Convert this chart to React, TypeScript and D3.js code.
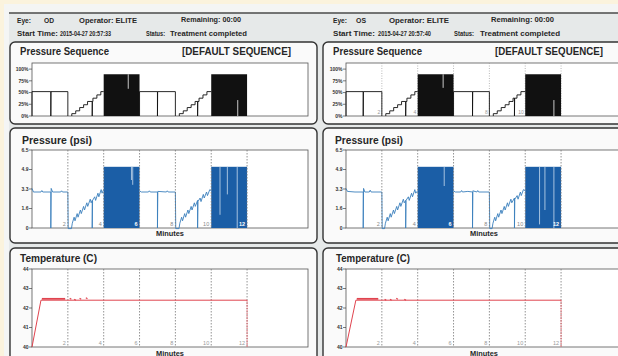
import React from 'react';
import * as d3 from 'd3';

const W = 618;
const H = 356;
const FONT = '"Liberation Sans", Arial, Helvetica, sans-serif';

// ---------- shared axis data ----------
const minuteMarks = [2, 4, 6, 8, 10, 12];
const minuteLabels = ['2', '4', '6', '8', '10', '12'];
const seqTickValues = [0, 25, 50, 75, 100];
const seqTickLabels = ['0%', '25%', '50%', '75%', '100%'];
const psiTickValues = [0, 1.625, 3.25, 4.875, 6.5];
const psiTickLabels = ['0', '1.6', '3.3', '4.9', '6.5'];
const tempTickValues = [40, 41, 42, 43, 44];
const tempTickLabels = ['40', '41', '42', '43', '44'];

// ---------- header text ----------
const headerLabelsOD = ['Eye:', 'OD', 'Operator: ELITE', 'Remaining: 00:00', 'Start Time:', '2015-04-27 20:57:33', 'Status:', 'Treatment completed'];
const headerLabelsOS = ['Eye:', 'OS', 'Operator: ELITE', 'Remaining: 00:00', 'Start Time:', '2015-04-27 20:57:40', 'Status:', 'Treatment completed'];
const titles = ['Pressure Sequence', '[DEFAULT SEQUENCE]', 'Pressure (psi)', 'Temperature (C)', 'Minutes'];

const N = NaN;

// ---------- OD (left) ----------
// pressure sequence outline [minute, %]
const seqLineOD: [number, number][] = [
  [0, 0], [0, 52], [1.05, 52], [1.05, 0], [1.06, 52], [2, 52], [2, 0], [N, N],
  [2.22, 0], [2.22, 5], [2.44, 5], [2.44, 11], [2.66, 11], [2.66, 18], [2.88, 18], [2.88, 24],
  [3.1, 24], [3.1, 31], [3.36, 31], [3.36, 0], [3.37, 31], [3.4, 31], [3.4, 38], [3.62, 38],
  [3.62, 45], [3.84, 45], [3.84, 52], [4, 52], [N, N],
  [6, 0], [6, 52], [7.0, 52], [7.0, 0], [7.01, 52], [8, 52], [8, 0], [N, N],
  [8.22, 0], [8.22, 5], [8.44, 5], [8.44, 11], [8.66, 11], [8.66, 18], [8.88, 18], [8.88, 24],
  [9.1, 24], [9.1, 31], [9.24, 31], [9.24, 0], [9.25, 31], [9.32, 31], [9.32, 38], [9.54, 38],
  [9.54, 45], [9.76, 45], [9.76, 52], [10, 52],
];
// [start, end, %]
const seqBlocksOD: [number, number, number][] = [[4, 6, 89], [10, 12, 89]];
// [minute, from %, to %]
const seqGapsOD: [number, number, number][] = [[5.37, 89, 58], [11.48, 34, 0]];

const psiLineOD: [number, number][] = [
  [0, 3.3], [0.08, 3.0], [0.5, 3.0], [0.55, 3.12], [0.6, 3.0], [1.05, 3.0], [1.05, 0], [1.07, 3.3],
  [1.15, 3.0], [1.6, 3.0], [1.65, 3.1], [1.7, 3.0], [2, 3.0], [2.02, -0.05], [2.2, -0.05],
  [2.25, 0.4], [2.35, 0.9], [2.4, 0.6], [2.52, 1.2], [2.57, 0.9], [2.7, 1.5], [2.75, 1.2],
  [2.88, 1.8], [2.93, 1.5], [3.06, 2.1], [3.11, 1.8], [3.25, 2.4], [3.3, 2.1], [3.36, 2.3],
  [3.36, 0], [3.38, 2.3], [3.5, 2.6], [3.55, 2.3], [3.68, 2.9], [3.73, 2.6], [3.86, 3.2],
  [3.91, 2.9], [4, 3.2], [N, N],
  [6, 3.1], [6.1, 3.0], [6.5, 3.0], [6.55, 3.1], [6.6, 3.0], [7.0, 3.0], [7.0, 0], [7.02, 3.05],
  [7.5, 3.0], [7.55, 3.1], [7.6, 3.0], [8, 3.0], [8.02, -0.05], [8.2, -0.05],
  [8.25, 0.4], [8.35, 0.9], [8.4, 0.6], [8.52, 1.2], [8.57, 0.9], [8.7, 1.5], [8.75, 1.2],
  [8.88, 1.8], [8.93, 1.5], [9.06, 2.1], [9.11, 1.8], [9.24, 2.3], [9.24, 0], [9.26, 2.2],
  [9.38, 2.5], [9.43, 2.2], [9.56, 2.8], [9.61, 2.5], [9.74, 3.0], [9.79, 2.7], [9.92, 3.2], [10, 3.1],
];
const psiBlocksOD: [number, number, number][] = [[4, 6, 5.1], [10, 12, 5.1]];
const psiGapsOD: [number, number, number][] = [[5.55, 5.1, 4.0], [5.62, 5.1, 3.6], [10.49, 5.1, 1.1], [10.9, 5.1, 2.8], [11.45, 5.1, 0]];

const tempLineOD: [number, number][] = [[0, 40], [0.5, 42.4], [12, 42.4]];
const tempDropOD = 12;
const tempBandOD: [number, number, number] = [0.55, 1.85, 42.47];
const tempDotsOD: [number, number][] = [[2.15, 42.5], [2.4, 42.45], [2.7, 42.5], [3.05, 42.52]];

// ---------- OS (right) ----------
const seqLineOS: [number, number][] = [
  [0, 0], [0, 52], [0.96, 52], [0.96, 0], [0.97, 52], [2, 52], [2, 0], [N, N],
  [2.22, 0], [2.22, 5], [2.44, 5], [2.44, 11], [2.66, 11], [2.66, 18], [2.88, 18], [2.88, 24],
  [3.1, 24], [3.1, 31], [3.33, 31], [3.33, 0], [3.34, 31], [3.4, 31], [3.4, 38], [3.62, 38],
  [3.62, 45], [3.84, 45], [3.84, 52], [4, 52], [N, N],
  [6, 0], [6, 52], [7.06, 52], [7.06, 0], [7.07, 52], [8, 52], [8, 0], [N, N],
  [8.22, 0], [8.22, 5], [8.44, 5], [8.44, 11], [8.66, 11], [8.66, 18], [8.88, 18], [8.88, 24],
  [9.1, 24], [9.1, 31], [9.32, 31], [9.32, 38], [9.4, 38], [9.4, 0], [9.41, 38], [9.54, 38],
  [9.54, 45], [9.76, 45], [9.76, 52], [10, 52],
];
const seqBlocksOS: [number, number, number][] = [[4, 6, 89], [10, 12, 89]];
const seqGapsOS: [number, number, number][] = [[5.42, 89, 60], [11.6, 34, 0]];

const psiLineOS: [number, number][] = [
  [0, 3.3], [0.08, 3.05], [0.5, 3.0], [0.96, 3.0], [0.96, 0], [0.98, 3.3], [1.05, 3.0],
  [1.3, 3.0], [1.35, 3.15], [1.4, 3.0], [2, 3.0], [2.02, -0.05], [2.15, -0.05],
  [2.2, 0.4], [2.3, 0.9], [2.35, 0.6], [2.47, 1.2], [2.52, 0.9], [2.65, 1.5], [2.7, 1.2],
  [2.83, 1.8], [2.88, 1.5], [3.01, 2.1], [3.06, 1.8], [3.2, 2.4], [3.25, 2.1], [3.33, 2.3],
  [3.33, 0], [3.35, 2.3], [3.48, 2.6], [3.53, 2.3], [3.66, 2.9], [3.71, 2.6], [3.84, 3.2],
  [3.89, 2.9], [4, 3.1], [N, N],
  [6, 3.1], [6.1, 3.0], [6.4, 3.0], [6.45, 3.12], [6.5, 3.0], [6.8, 3.05], [7.06, 3.0],
  [7.06, 0], [7.08, 3.1], [7.3, 3.0], [7.35, 3.12], [7.4, 3.0], [8, 3.0], [8.02, -0.05],
  [8.15, -0.05], [8.2, 0.4], [8.3, 0.9], [8.35, 0.6], [8.47, 1.2], [8.52, 0.9], [8.65, 1.5],
  [8.7, 1.2], [8.83, 1.8], [8.88, 1.5], [9.01, 2.1], [9.06, 1.8], [9.2, 2.4], [9.25, 2.1],
  [9.4, 2.5], [9.4, 0], [9.42, 2.4], [9.55, 2.7], [9.6, 2.4], [9.73, 3.0], [9.78, 2.7],
  [9.9, 3.2], [10, 3.1],
];
const psiBlocksOS: [number, number, number][] = [[4, 6, 5.1], [10, 12, 5.1]];
const psiGapsOS: [number, number, number][] = [[5.48, 5.1, 3.5], [10.8, 5.1, 0.3], [11.1, 5.1, 1.5], [11.6, 5.1, 0]];

const tempLineOS: [number, number][] = [[0, 40], [0.55, 42.4], [12, 42.4]];
const tempDropOS = 12;
const tempBandOS: [number, number, number] = [0.6, 1.8, 42.47];
const tempDotsOS: [number, number][] = [[2.2, 42.45], [2.5, 42.45], [2.85, 42.5], [3.3, 42.45]];

const OD = {
  header: headerLabelsOD, seqLine: seqLineOD, seqBlocks: seqBlocksOD, seqGaps: seqGapsOD,
  psiLine: psiLineOD, psiBlocks: psiBlocksOD, psiGaps: psiGapsOD,
  tempLine: tempLineOD, tempDrop: tempDropOD, tempBand: tempBandOD, tempDots: tempDotsOD,
};
const OS = {
  header: headerLabelsOS, seqLine: seqLineOS, seqBlocks: seqBlocksOS, seqGaps: seqGapsOS,
  psiLine: psiLineOS, psiBlocks: psiBlocksOS, psiGaps: psiGapsOS,
  tempLine: tempLineOS, tempDrop: tempDropOS, tempBand: tempBandOS, tempDots: tempDotsOS,
};

function T(props: any) {
  const { x, y, w, size, children, weight = 700, fill = '#262626', anchor = 'start' } = props;
  return (
    <text x={x} y={y} fontSize={size} fontWeight={weight} fill={fill} textAnchor={anchor}
      fontFamily={FONT} textLength={w} lengthAdjust="spacingAndGlyphs">{children}</text>
  );
}

function EyePanel({ left, d }: { left: boolean; d: typeof OD }) {
  const bx = left ? 10 : 323;
  const bw = left ? 307 : 312;
  const px = left ? 32 : 346;
  const pw = 276;
  const x = d3.scaleLinear().domain([0, 15.4]).range([px, px + pw]);
  const ySeq = d3.scaleLinear().domain([0, 113]).range([116, 63]);
  const yPsi = d3.scaleLinear().domain([0, 6.5]).range([228, 150]);
  const yTmp = d3.scaleLinear().domain([40, 44]).range([347, 269]);
  const ok = (p: [number, number]) => !isNaN(p[1]);
  const lineSeq = d3.line<[number, number]>().defined(ok).x(p => x(p[0])).y(p => ySeq(p[1]));
  const linePsi = d3.line<[number, number]>().defined(ok).x(p => x(p[0])).y(p => yPsi(p[1]));
  const lineTmp = d3.line<[number, number]>().x(p => x(p[0])).y(p => yTmp(p[1]));

  // header positions [x, y, width]
  const hp = left
    ? [[17, 23, 14], [44, 23, 10], [79, 23, 58], [181, 22, 60], [17, 36, 41], [60, 36, 51], [146, 36, 19], [170, 36, 77]]
    : [[333, 23, 14], [356, 23, 10], [389, 23, 60], [491, 22, 63], [333, 36, 42], [378, 36, 53], [454, 36, 20], [480, 36, 80]];
  const tp = left
    ? { seq: [20, 89], def: [182, 109], psi: [22, 70], tmp: [20, 77] }
    : { seq: [333, 89], def: [495, 108], psi: [335, 68], tmp: [336, 74] };

  const yAxis = (scale: any, vals: number[], labels: string[]) =>
    vals.map((v, i) => (
      <g key={i}>
        <line x1={px - 3} x2={px} y1={scale(v)} y2={scale(v)} stroke="#444" strokeWidth={0.7} />
        <T x={px - 3.5} y={scale(v) + 1.8} size={5} weight={700} fill="#333" anchor="end">{labels[i]}</T>
      </g>
    ));

  const inBlock = (m: number, blocks: [number, number, number][]) => blocks.some(b => m > b[0] && m <= b[1]);

  return (
    <g>
      {/* header text */}
      {d.header.map((t, i) => (
        <T key={i} x={hp[i][0]} y={hp[i][1]} w={hp[i][2]} size={7.5}>{t}</T>
      ))}

      {/* boxes */}
      <rect x={bx} y={42} width={bw} height={82} rx={5} fill="#fafafa" stroke="#333" strokeWidth={1.4} />
      <rect x={bx} y={128} width={bw} height={115} rx={5} fill="#fafafa" stroke="#333" strokeWidth={1.4} />
      <rect x={bx} y={248} width={bw} height={140} rx={5} fill="#fafafa" stroke="#333" strokeWidth={1.4} />

      {/* ---------- Pressure Sequence ---------- */}
      <T x={tp.seq[0]} y={55} w={tp.seq[1]} size={10.5}>{titles[0]}</T>
      <T x={tp.def[0]} y={55} w={tp.def[1]} size={10.5}>{titles[1]}</T>
      <rect x={px} y={63} width={pw} height={53} fill="#fff" stroke="#555" strokeWidth={0.8} />
      {!left && minuteMarks.map((m, i) => (
        <g key={i}>
          <line x1={x(m)} x2={x(m)} y1={63} y2={116} stroke="#9a9a9a" strokeWidth={0.7} strokeDasharray="1 1.5" />
          <T x={x(m) - 1.5} y={114} size={5} weight={400} fill="#999" anchor="end">{minuteLabels[i]}</T>
        </g>
      ))}
      {d.seqBlocks.map((b, i) => (
        <rect key={i} x={x(b[0])} y={ySeq(b[2])} width={x(b[1]) - x(b[0])} height={ySeq(0) - ySeq(b[2])} fill="#111" />
      ))}
      {d.seqGaps.map((g, i) => (
        <line key={i} x1={x(g[0])} x2={x(g[0])} y1={ySeq(g[1])} y2={ySeq(g[2])} stroke="#ddd" strokeWidth={0.9} />
      ))}
      <path d={lineSeq(d.seqLine) || ''} fill="none" stroke="#111" strokeWidth={0.9} />
      {yAxis(ySeq, seqTickValues, seqTickLabels)}

      {/* ---------- Pressure (psi) ---------- */}
      <T x={tp.psi[0]} y={144} w={tp.psi[1]} size={10.5}>{titles[2]}</T>
      <rect x={px} y={150} width={pw} height={78} fill="#fff" stroke="#555" strokeWidth={0.8} />
      {d.psiBlocks.map((b, i) => (
        <rect key={i} x={x(b[0])} y={yPsi(b[2])} width={x(b[1]) - x(b[0])} height={yPsi(0) - yPsi(b[2])} fill="#1b5ea6" />
      ))}
      {d.psiGaps.map((g, i) => (
        <line key={i} x1={x(g[0])} x2={x(g[0])} y1={yPsi(g[1])} y2={yPsi(g[2])} stroke="#c9dcee" strokeWidth={0.8} />
      ))}
      <path d={linePsi(d.psiLine) || ''} fill="none" stroke="#3a7fbc" strokeWidth={0.9} />
      {minuteMarks.map((m, i) => (
        <g key={i}>
          <line x1={x(m)} x2={x(m)} y1={150} y2={228} stroke="#777" strokeWidth={0.8} strokeDasharray="1.5 1.5" />
          <T x={x(m) - 2} y={226} size={5.5} weight={inBlock(m, d.psiBlocks) ? 700 : 400}
            fill={inBlock(m, d.psiBlocks) ? '#fff' : '#888'} anchor="end">{minuteLabels[i]}</T>
        </g>
      ))}
      {yAxis(yPsi, psiTickValues, psiTickLabels)}
      <T x={px + pw / 2} y={236} w={28} size={6.5} anchor="middle">{titles[4]}</T>

      {/* ---------- Temperature ---------- */}
      <T x={tp.tmp[0]} y={262} w={tp.tmp[1]} size={10.5}>{titles[3]}</T>
      <rect x={px} y={269} width={pw} height={78} fill="#fff" stroke="#555" strokeWidth={0.8} />
      {minuteMarks.map((m, i) => (
        <g key={i}>
          <line x1={x(m)} x2={x(m)} y1={269} y2={347} stroke="#777" strokeWidth={0.8} strokeDasharray="1.5 1.5" />
          <T x={x(m) - 2} y={345} size={5.5} weight={400} fill="#999" anchor="end">{minuteLabels[i]}</T>
        </g>
      ))}
      <path d={lineTmp(d.tempLine) || ''} fill="none" stroke="#e0444f" strokeWidth={1} />
      <line x1={x(d.tempDrop)} x2={x(d.tempDrop)} y1={yTmp(42.4)} y2={yTmp(40)} stroke="#e0444f" strokeWidth={0.9} strokeDasharray="1.5 1" />
      <line x1={x(d.tempBand[0])} x2={x(d.tempBand[1])} y1={yTmp(d.tempBand[2])} y2={yTmp(d.tempBand[2])} stroke="#e0444f" strokeWidth={1.8} />
      {d.tempDots.map((p, i) => (
        <line key={i} x1={x(p[0]) - 0.8} x2={x(p[0]) + 0.8} y1={yTmp(p[1])} y2={yTmp(p[1]) + 1} stroke="#e0444f" strokeWidth={1.2} />
      ))}
      {yAxis(yTmp, tempTickValues, tempTickLabels)}
      <T x={px + pw / 2} y={356} w={28} size={6.5} anchor="middle">{titles[4]}</T>
    </g>
  );
}

export default function App() {
  return (
    <svg width={W} height={H} viewBox={`0 0 ${W} ${H}`}
      style={{ position: 'absolute', left: 0, top: 0, display: 'block' }}>
      <rect width={W} height={H} fill="#fbf3dd" />
      <rect x={4} y={4} width={W - 4} height={H - 4} fill="#f4f5f4" />
      <rect x={9} y={13} width={W - 9} height={H - 13} fill="#e6e9e9" />
      <line x1={9} x2={W} y1={13} y2={13} stroke="#4a4a4a" strokeWidth={1.3} />
      <EyePanel left={true} d={OD} />
      <EyePanel left={false} d={OS} />
    </svg>
  );
}
